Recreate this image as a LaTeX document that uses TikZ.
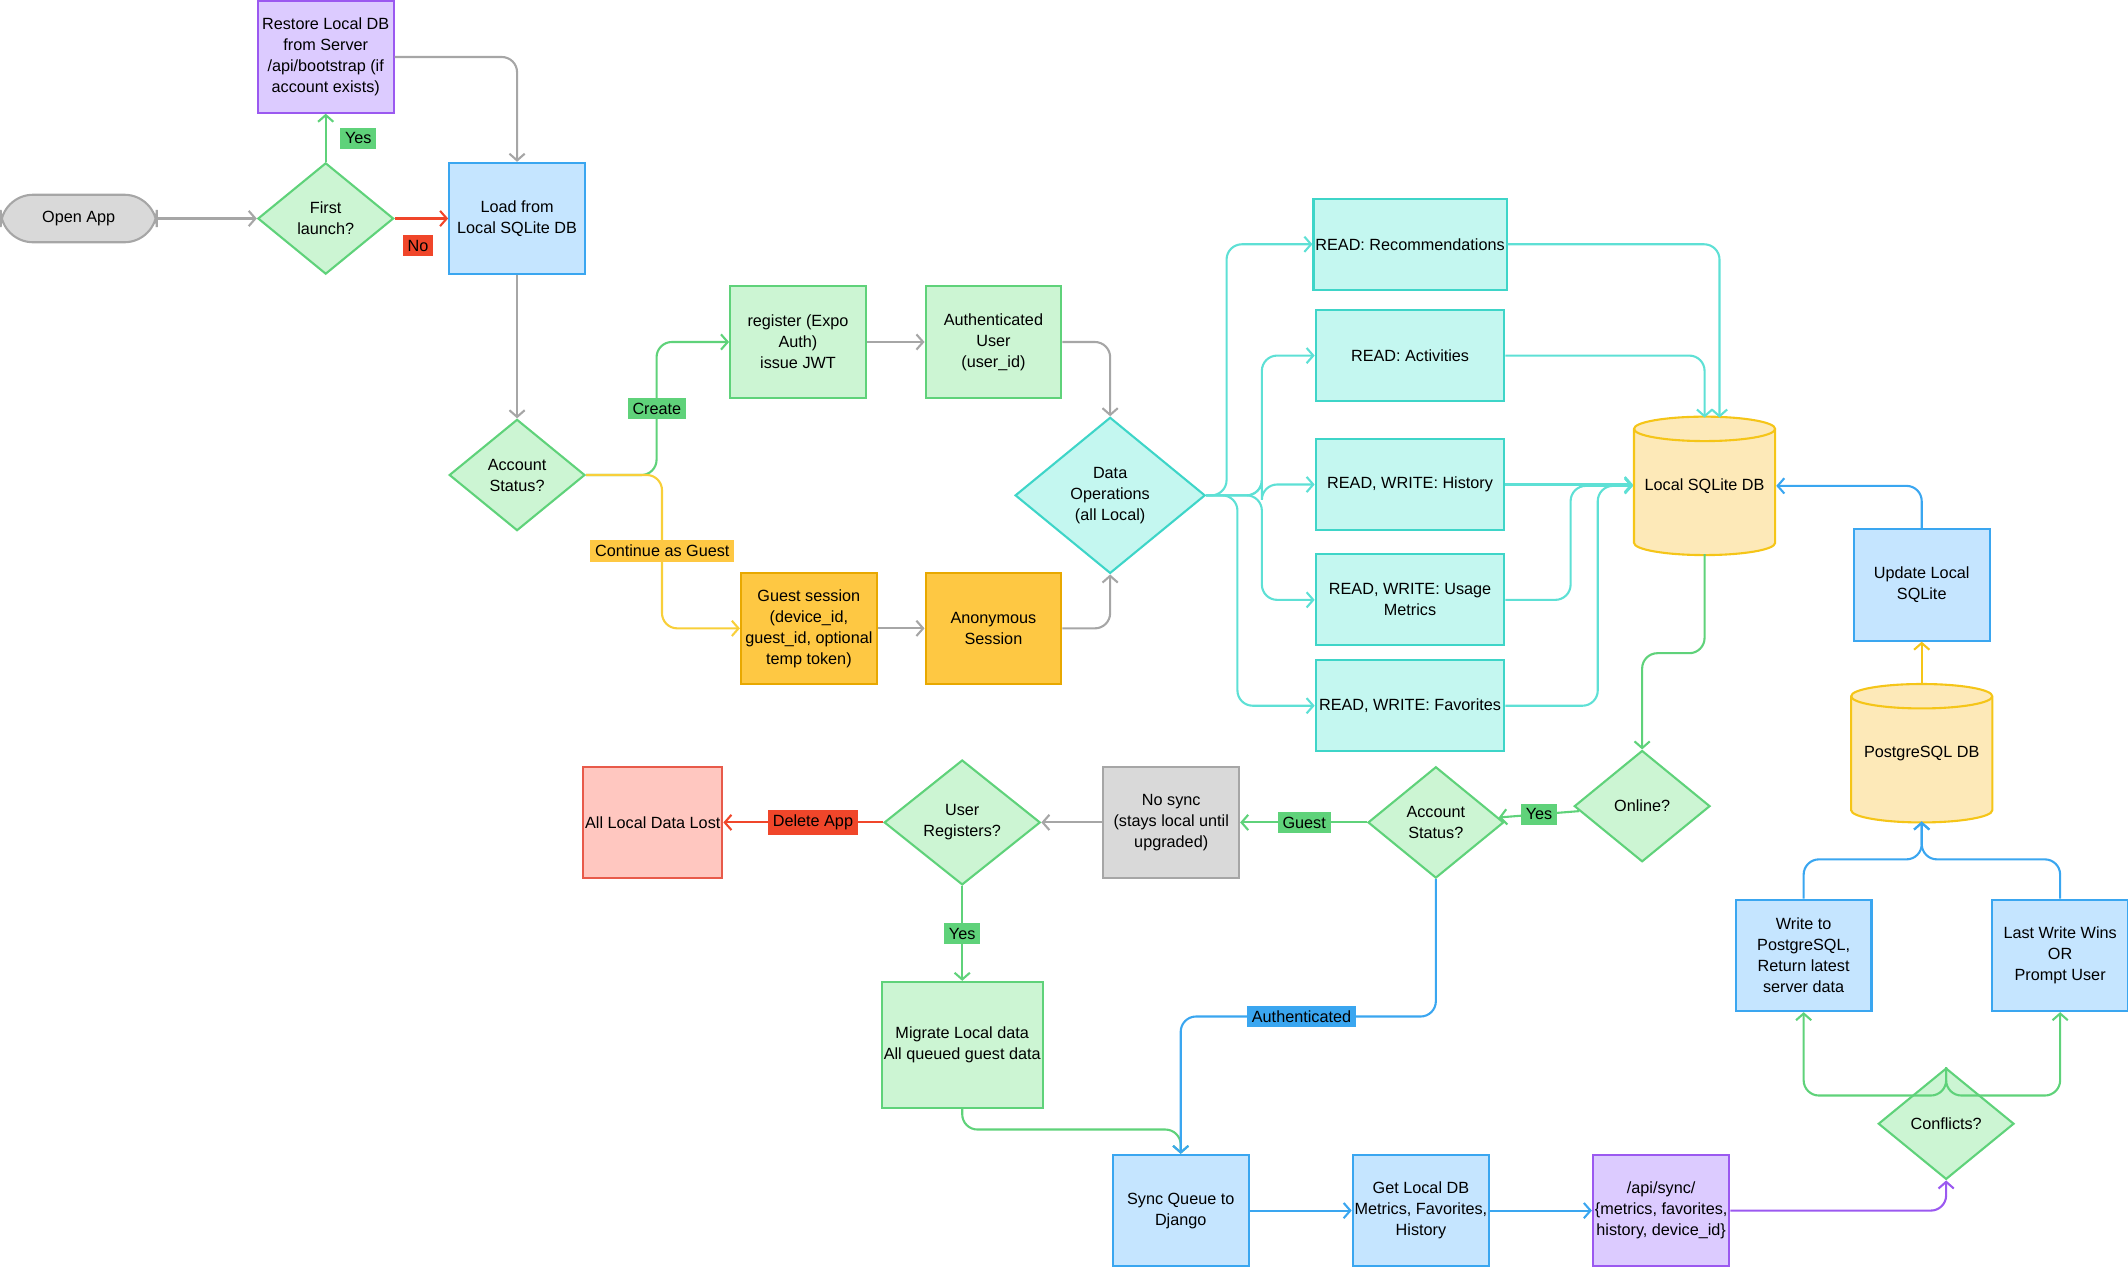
\documentclass[tikz,border=0pt]{standalone}
\usepackage{fontspec}
\setmainfont{Liberation Sans}
\usetikzlibrary{shapes.geometric,arrows.meta,calc}
\definecolor{gE}{HTML}{5FD27A}\definecolor{gF}{HTML}{CCF5D3}
\definecolor{bE}{HTML}{3AA6F0}\definecolor{bF}{HTML}{C5E5FF}
\definecolor{pE}{HTML}{9B59F0}\definecolor{pF}{HTML}{DCCBFF}
\definecolor{oE}{HTML}{E8A800}\definecolor{oF}{HTML}{FEC843}
\definecolor{cE}{HTML}{3ED5C8}\definecolor{cF}{HTML}{C4F7F0}
\definecolor{yE}{HTML}{F5C518}\definecolor{yF}{HTML}{FDE9B8}
\definecolor{rE}{HTML}{E85A4A}\definecolor{rF}{HTML}{FFC7C0}
\definecolor{grE}{HTML}{A6A6A6}\definecolor{grF}{HTML}{D9D9D9}
\definecolor{rL}{HTML}{F0462A}\definecolor{yL}{HTML}{F8CF3A}\definecolor{cL}{HTML}{5EE0D5}
\begin{document}
\begin{tikzpicture}[x=0.025cm,y=0.025cm,
  every node/.style={font=\fontsize{8.5}{11}\selectfont,align=center},
  box/.style={draw,line width=1.1pt,minimum width=2.5cm,minimum height=2.05cm,inner sep=1pt},
  dia/.style={diamond,draw,line width=1.1pt,minimum width=2.5cm,minimum height=2.05cm,inner sep=0pt,fill=gF,draw=gE},
  rd/.style={box,minimum width=3.475cm,minimum height=1.675cm,fill=cF,draw=cE},
  lab/.style={fill=#1,inner sep=2.5pt},
  ar/.style={line width=1.1pt,rounded corners=8pt,-{Straight Barb[length=3.5pt,width=8pt]}},
  ga/.style={ar,grE},gna/.style={ar,gE},ra/.style={ar,rL},ya/.style={ar,yL},
  ca/.style={ar,cL},ba/.style={ar,bE},pa/.style={ar,pE}]
\useasboundingbox (0,0) rectangle (1568,-935);
\newcommand\cyl[2]{\filldraw[fill=yF,draw=yE,line width=1.1pt]
 ({#1-52},{#2+42}) -- ({#1-52},{#2-42}) arc[start angle=180,end angle=360,x radius=52,y radius=9]
 -- ({#1+52},{#2+42}) arc[start angle=0,end angle=180,x radius=52,y radius=9] -- cycle;
 \draw[yE,line width=1.1pt] ({#1-52},{#2+42}) arc[start angle=180,end angle=360,x radius=52,y radius=9];}
\node[draw=grE,fill=grF,line width=1.1pt,rounded corners=17pt,minimum width=2.875cm,minimum height=0.875cm] (open) at (58,-161) {Open App};
\node[dia] (first) at (240,-161) {First\\launch?};
\node[box,fill=pF,draw=pE] (rest) at (240,-42) {Restore Local DB\\from Server\\/api/bootstrap (if\\account exists)};
\node[box,fill=bF,draw=bE] (load) at (381,-161) {Load from\\Local SQLite DB};
\node[dia] (acc1) at (381,-350) {Account\\Status?};
\node[box,fill=gF,draw=gE] (reg) at (588,-252) {register (Expo\\Auth)\\issue JWT};
\node[box,fill=gF,draw=gE] (auth) at (732,-252) {Authenticated\\User\\(user\_id)};
\node[box,fill=oF,draw=oE] (guest) at (596,-463) {Guest session\\(device\_id,\\guest\_id, optional\\temp token)};
\node[box,fill=oF,draw=oE] (anon) at (732,-463) {Anonymous\\Session};
\node[diamond,draw=cE,fill=cF,line width=1.1pt,minimum width=3.5cm,minimum height=2.875cm,inner sep=0pt] (dat) at (818,-365) {Data\\Operations\\(all Local)};
\node[rd] (rrec) at (1039,-180) {READ: Recommendations};
\node[rd] (ract) at (1039,-262) {READ: Activities};
\node[rd] (rhis) at (1039,-357) {READ, WRITE: History};
\node[rd] (rusa) at (1039,-442) {READ, WRITE: Usage\\Metrics};
\node[rd] (rfav) at (1039,-520) {READ, WRITE: Favorites};
\cyl{1256}{-358}
\node[minimum width=2.625cm,minimum height=2.5cm,inner sep=0pt] (sql) at (1256,-358) {Local SQLite DB};
\node[box,fill=bF,draw=bE] (upd) at (1416,-431) {Update Local\\SQLite};
\cyl{1416}{-555}
\node[minimum width=2.625cm,minimum height=2.5cm,inner sep=0pt] (pg) at (1416,-555) {PostgreSQL DB};
\node[dia] (online) at (1210,-594) {Online?};
\node[dia] (acc2) at (1058,-606) {Account\\Status?};
\node[box,fill=grF,draw=grE] (nos) at (863,-606) {No sync\\(stays local until\\upgraded)};
\node[dia,minimum width=2.875cm,minimum height=2.3cm] (ureg) at (709,-606) {User\\Registers?};
\node[box,fill=rF,draw=rE] (lost) at (481,-606) {All Local Data Lost};
\node[box,fill=gF,draw=gE,minimum width=2.825cm,minimum height=2.325cm] (mig) at (709,-770) {Migrate Local data\\All queued guest data};
\node[box,fill=bF,draw=bE] (sync) at (870,-892) {Sync Queue to\\Django};
\node[box,fill=bF,draw=bE] (get) at (1047,-892) {Get Local DB\\Metrics, Favorites,\\History};
\node[box,fill=pF,draw=pE] (api) at (1224,-892) {/api/sync/\\\{metrics, favorites,\\history, device\_id\}};
\node[dia] (conf) at (1434,-828) {Conflicts?};
\node[box,fill=bF,draw=bE] (wr) at (1329,-704) {Write to\\PostgreSQL,\\Return latest\\server data};
\node[box,fill=bF,draw=bE] (lw) at (1518,-704) {Last Write Wins\\OR\\Prompt User};
% edges
\draw[ga] (open) -- (first);
\draw[gna] (first) -- (rest);
\draw[ra] (first) -- (load);
\draw[ga] (rest.east) -| (load.north);
\draw[ga] (load) -- (acc1);
\draw[gna] (acc1.east) -- ++(52,0) |- (reg.west);
\draw[ya] (acc1.east) -- ++(56,0) |- (guest.west);
\draw[ga] (reg) -- (auth);
\draw[ga] (auth.east) -| (dat.north);
\draw[ga] (guest) -- (anon);
\draw[ga] (anon.east) -| (dat.south);
\draw[ca] (dat.east) -- ++(15,0) |- (rrec.west);
\draw[ca] (dat.east) -- ++(41,0) |- (ract.west);
\draw[ca] (dat.east) -- ++(41,0) |- (rhis.west);
\draw[ca] (dat.east) -- ++(41,0) |- (rusa.west);
\draw[ca] (dat.east) -- ++(23,0) |- (rfav.west);
\draw[ca] (rrec.east) -| ($(sql.north)+(11,0)$);
\draw[ca] (ract.east) -| (sql.north);
\draw[ca] (rhis.east) -- (rhis.east -| sql.west);
\draw[ca] (rusa.east) -- ++(48,0) |- (sql.west);
\draw[ca] (rfav.east) -- ++(68,0) |- (sql.west);
\draw[gna] (sql.south) -- ++(0,-73) -| (online.north);
\draw[gna] (online) -- (acc2);
\draw[gna] (acc2) -- (nos);
\draw[ga] (nos) -- (ureg);
\draw[ra] (ureg) -- (lost);
\draw[gna] (ureg) -- (mig);
\draw[gna] (mig.south) -- ++(0,-15) -| (sync.north);
\draw[ba] (acc2.south) |- (950,-749) -| (sync.north);
\draw[ba] (sync) -- (get);
\draw[ba] (get) -- (api);
\draw[pa] (api.east) -| (conf.south);
\draw[gna] (conf.north) -- ++(0,-21) -| (wr.south);
\draw[gna] (conf.north) -- ++(0,-21) -| (lw.south);
\draw[ba] (wr.north) -- ++(0,29) -| (pg.south);
\draw[ba] (lw.north) -- ++(0,29) -| (pg.south);
\draw[ar,yE] (pg.north) -- (upd.south);
\draw[ba] (upd.north) |- (sql.east);
% labels
\node[lab=gE] at (264,-102) {Yes};
\node[lab=rL] at (308,-181) {No};
\node[lab=gE] at (484,-301) {Create};
\node[lab=oF] at (488,-406) {Continue as Guest};
\node[lab=gE] at (1134,-600) {Yes};
\node[lab=gE] at (961,-606) {Guest};
\node[lab=rL] at (599,-606) {Delete App};
\node[lab=gE] at (709,-688) {Yes};
\node[lab=bE] at (959,-749) {Authenticated};
\end{tikzpicture}
\end{document}
